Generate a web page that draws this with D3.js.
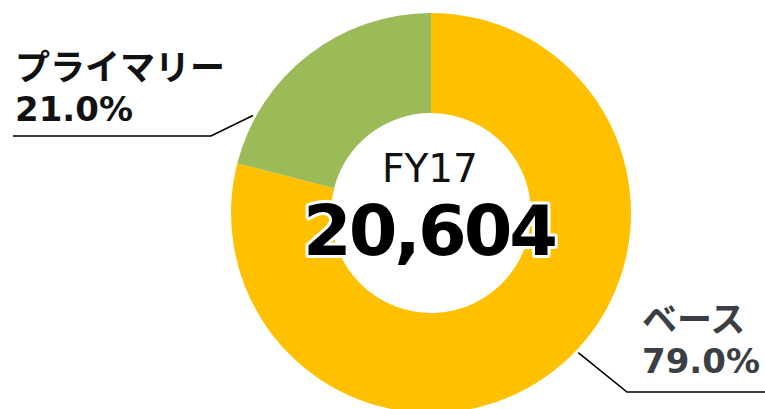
<!DOCTYPE html>
<html>
<head>
<meta charset="utf-8">
<script src="https://cdn.jsdelivr.net/npm/d3@7"></script>
<style>
  body { margin: 0; background: #fff; }
  text { font-family: "DejaVu Sans", "Noto Sans CJK JP", sans-serif; }
</style>
</head>
<body>
<div id="chart"></div>
<script>
const width = 765;
const height = 409;

// data
const categories = ["ベース", "プライマリー"];
const shares = [79.0, 21.0];
const colors = ["#FFC000", "#9BBB59"];
const fiscalYear = "FY17";
const total = 20604;

var svg = d3.select("#chart")
  .append("svg")
  .attr("width", width)
  .attr("height", height);

var cx = 431, cy = 213;
var outerR = 200, innerR = 100;

var pie = d3.pie().sort(null).value(d => d);
var arc = d3.arc().innerRadius(innerR).outerRadius(outerR);
var arcs = pie(shares);

var g = svg.append("g").attr("transform", "translate(" + cx + "," + cy + ")");

g.selectAll("path").data(arcs).enter().append("path")
  .attr("d", arc)
  .attr("fill", (d, i) => colors[i]);

var fmt = d3.format(".1f");

// leader lines + labels
var labels = [
  // base: bottom right
  { i: 0, ang: 2.33, end: [627 - cx, 392 - cy], tip: width - cx, tx: 642, ty: 332, fill: "#3b3f43" },
  // primary: top left
  { i: 1, ang: -1.07, end: [211 - cx, 136 - cy], tip: 13 - cx, tx: 15, ty: 80, fill: "#111" }
];

labels.forEach(function(l) {
  var r = outerR + 3;
  var p0 = [Math.sin(l.ang) * r, -Math.cos(l.ang) * r];
  g.append("polyline")
    .attr("points", [p0, l.end, [l.tip, l.end[1]]].map(p => p.join(",")).join(" "))
    .attr("fill", "none")
    .attr("stroke", "#000")
    .attr("stroke-width", 1.6);

  var t = svg.append("text")
    .attr("x", l.tx)
    .attr("y", l.ty)
    .attr("font-weight", "bold")
    .attr("fill", l.fill);
  t.append("tspan").attr("x", l.tx).attr("font-size", 35).text(categories[l.i]);
  t.append("tspan").attr("x", l.tx).attr("dy", 41).attr("font-size", 34).text(fmt(shares[l.i]) + "%");
});

// center text
svg.append("text")
  .attr("x", cx - 1)
  .attr("y", 182)
  .attr("text-anchor", "middle")
  .attr("font-size", 39)
  .attr("fill", "#111")
  .text(fiscalYear);

svg.append("text")
  .attr("x", cx - 2)
  .attr("y", 255)
  .attr("text-anchor", "middle")
  .attr("font-size", 70)
  .attr("font-weight", "bold")
  .attr("letter-spacing", -3)
  .attr("fill", "#000")
  .attr("stroke", "#fff")
  .attr("stroke-width", 6)
  .attr("stroke-linejoin", "round")
  .attr("paint-order", "stroke")
  .text(d3.format(",")(total));
</script>
</body>
</html>
